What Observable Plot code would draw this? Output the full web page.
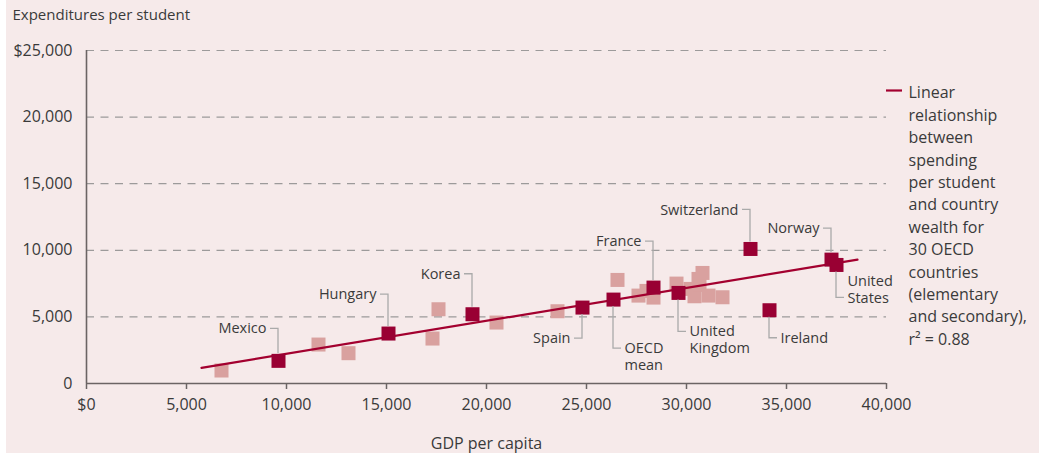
<!DOCTYPE html>
<html><head><meta charset="utf-8">
<script src="https://cdn.jsdelivr.net/npm/d3@7"></script>
<script src="https://cdn.jsdelivr.net/npm/@observablehq/plot@0.6"></script>
<style>
html,body{margin:0;padding:0;background:#fff;}
#chart{position:absolute;left:6px;top:0;}
</style></head><body><div id="chart"></div>
<script>
// ---- data ----
const labeledNames  = ["Mexico","Hungary","Korea","Spain","OECD mean","France","United Kingdom","Switzerland","Ireland","Norway","United States"];
const labeledGdp    = [9600, 15100, 19300, 24800, 26350, 28350, 29600, 33200, 34150, 37250, 37500];
const labeledSpend  = [1700, 3750, 5200, 5700, 6300, 7200, 6800, 10100, 5500, 9300, 8900];
const otherGdp      = [6750, 11600, 13100, 17300, 17600, 20500, 23550, 26550, 27600, 28000, 28350, 29500, 30200, 30400, 30600, 30650, 30800, 31100, 31800];
const otherSpend    = [975, 2925, 2275, 3375, 5575, 4575, 5425, 7775, 6600, 6950, 6450, 7500, 7100, 6550, 7850, 7400, 8300, 6600, 6475];
const fitGdp        = [5750, 38550];
const fitSpend      = [1175, 9300];
const xTicks        = [0, 5000, 10000, 15000, 20000, 25000, 30000, 35000, 40000];
const xTickLabels   = ["$0","5,000","10,000","15,000","20,000","25,000","30,000","35,000","40,000"];
const yTicks        = [0, 5000, 10000, 15000, 20000, 25000];
const yTickLabels   = ["0","5,000","10,000","15,000","20,000","$25,000"];
const titleText     = "Expenditures per student";
const xTitle        = "GDP per capita";
const legendText    = "Linear\nrelationship\nbetween\nspending\nper student\nand country\nwealth for\n30 OECD\ncountries\n(elementary\nand secondary),\nr² = 0.88";

// ---- label layout (pixel offsets, style only) ----
const labelLayout = {
  "Mexico":        {dir:-1, lead:32, side:-1, lines:["Mexico"], at:0},
  "Hungary":       {dir:-1, lead:39, side:-1, lines:["Hungary"], at:0},
  "Korea":         {dir:-1, lead:40, side:-1, lines:["Korea"], at:0},
  "France":        {dir:-1, lead:46, side:-1, lines:["France"], at:0},
  "Switzerland":   {dir:-1, lead:39, side:-1, lines:["Switzerland"], at:0},
  "Norway":        {dir:-1, lead:31, side:-1, lines:["Norway"], at:0},
  "Spain":         {dir: 1, lead:31, side:-1, lines:["Spain"], at:0},
  "OECD mean":     {dir: 1, lead:49, side: 1, lines:["OECD","mean"], at:0},
  "United Kingdom":{dir: 1, lead:39, side: 1, lines:["United","Kingdom"], at:0},
  "Ireland":       {dir: 1, lead:28, side: 1, lines:["Ireland"], at:0},
  "United States": {dir: 1, lead:33, side: 1, lines:["United","States"], at:1}
};

const labeled = labeledNames.map((n,i)=>({name:n, gdp:labeledGdp[i], spend:labeledSpend[i]}));
const others = otherGdp.map((g,i)=>({gdp:g, spend:otherSpend[i]}));
const fit = fitGdp.map((g,i)=>({gdp:g, spend:fitSpend[i]}));

const DARK = "#990033", LIGHT = "#d9a19f", LINE = "#a3002f", BG = "#f6eaea", TEXT = "#3a3a3a", GRID = "#9c9a9a", AXIS = "#6b6464";
const FONT = "'Open Sans', sans-serif";

const plot = Plot.plot({
  width: 1033, height: 453,
  marginLeft: 80, marginRight: 153, marginTop: 50, marginBottom: 70,
  style: {background: BG, fontFamily: FONT, fontSize: "16px", color: TEXT},
  x: {domain: [0, 40000]},
  y: {domain: [0, 25000]},
  marks: [
    Plot.ruleY(yTicks.slice(1), {stroke: GRID, strokeWidth: 1.2, strokeDasharray: "8,6.5"}),
    Plot.axisY({ticks: yTicks, tickSize: 0, tickPadding: 14, tickFormat: (d,i)=>yTickLabels[i], label: null, fontSize: 16}),
    Plot.axisX({ticks: xTicks, tickSize: 6, tickPadding: 9, tickFormat: (d,i)=>xTickLabels[i], stroke: AXIS, strokeWidth: 1.5,
                label: xTitle, labelAnchor: "center", labelArrow: "none", labelOffset: 65, fontSize: 16}),
    Plot.ruleX([0], {stroke: AXIS, strokeWidth: 1.6}),
    Plot.ruleY([0], {stroke: AXIS, strokeWidth: 1.6}),
    Plot.dot(others, {x: "gdp", y: "spend", symbol: "square", r: 7.9, fill: LIGHT, stroke: "none"}),
    Plot.line(fit, {x: "gdp", y: "spend", stroke: LINE, strokeWidth: 2.2}),
    Plot.dot(labeled, {x: "gdp", y: "spend", symbol: "square", r: 7.9, fill: DARK, stroke: "none"}),
    Plot.text([titleText], {frameAnchor: "top-left", dx: -74, dy: -35, textAnchor: "start", lineAnchor: "middle", fontSize: 15, fill: TEXT}),
    Plot.text([legendText], {frameAnchor: "top-right", dx: 22, dy: 164, textAnchor: "start", lineAnchor: "middle", lineHeight: 1.4, fontSize: 16, fill: TEXT})
  ]
});

// annotations (leader lines + labels) positioned through the plot's scales
const sx = plot.scale("x"), sy = plot.scale("y");
const svg = d3.select(plot);
const g = svg.append("g").attr("font-family", FONT).attr("font-size", 14.5).attr("fill", TEXT);
const LH = 16.5;
labeled.forEach(d => {
  const L = labelLayout[d.name]; if (!L) return;
  const cx = sx.apply(d.gdp), cy = sy.apply(d.spend);
  const ly = cy + L.dir * L.lead;
  const hx = cx + L.side * 8;
  g.append("path")
    .attr("d", `M${cx},${cy + L.dir*7}V${ly}H${hx}`)
    .attr("fill", "none").attr("stroke", "#aaa").attr("stroke-width", 1.3);
  const tx = hx + L.side * 3.5;
  const t = g.append("text")
    .attr("text-anchor", L.side < 0 ? "end" : "start");
  L.lines.forEach((s, k) => {
    t.append("tspan").attr("x", tx).attr("y", ly + (k - L.at) * LH).attr("dy", "0.35em").text(s);
  });
});
// legend swatch
const frameRight = sx.range[1];
const firstLineY = 90.5;
svg.append("line").attr("x1", frameRight).attr("x2", frameRight + 16)
  .attr("y1", firstLineY).attr("y2", firstLineY).attr("stroke", LINE).attr("stroke-width", 2.2);

document.getElementById("chart").appendChild(plot);
</script></body></html>
